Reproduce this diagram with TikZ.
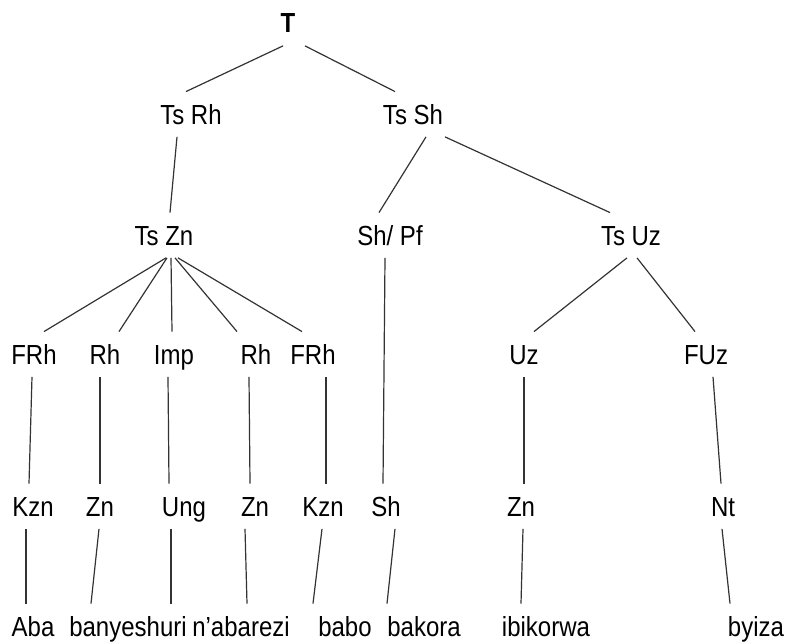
\documentclass[tikz,border=0pt]{standalone}
\usepackage{fontspec}
\setmainfont{Liberation Sans}
\usepackage{tikz}

\begin{document}
\begin{tikzpicture}[x=1pt, y=-1pt,
	lbl/.style={anchor=base, font=\fontsize{24}{28}\selectfont, yscale=1.15,
		text height=22pt, text depth=5pt, inner xsep=3pt, inner ysep=6pt},
	edge/.style={line width=1.2pt, black!80}]
	\useasboundingbox (0,0) rectangle (789,642);
	% top levels
	\node[lbl] (t) at (288,33) {\textbf{T}};
	\node[lbl] (tsrh) at (191,124) {Ts Rh};
	\node[lbl] (tssh) at (413,124) {Ts Sh};
	\node[lbl] (tszn) at (164,245) {Ts Zn};
	\node[lbl] (shpf) at (390,245) {Sh/ Pf};
	\node[lbl] (tsuz) at (631,245) {Ts Uz};
	% fourth row
	\node[lbl] (frha) at (34,364) {FRh};
	\node[lbl] (rha) at (105,364) {Rh};
	\node[lbl] (imp) at (174,364) {Imp};
	\node[lbl] (rhb) at (256,364) {Rh};
	\node[lbl] (frhb) at (313,364) {FRh};
	\node[lbl] (uz) at (524,364) {Uz};
	\node[lbl] (fuz) at (706,364) {FUz};
	% fifth row
	\node[lbl] (kzna) at (33,516) {Kzn};
	\node[lbl] (zna) at (100,516) {Zn};
	\node[lbl] (ung) at (184,516) {Ung};
	\node[lbl] (znb) at (255,516) {Zn};
	\node[lbl] (kznb) at (323,516) {Kzn};
	\node[lbl] (sh) at (386,516) {Sh};
	\node[lbl] (znc) at (521,516) {Zn};
	\node[lbl] (nt) at (723,516) {Nt};
	% words
	\node[lbl] (aba) at (33,636) {Aba};
	\node[lbl] (banyeshuri) at (128,636) {banyeshuri};
	\node[lbl] (nabarezi) at (241,636) {n'abarezi};
	\node[lbl] (babo) at (345,636) {babo};
	\node[lbl] (bakora) at (424,636) {bakora};
	\node[lbl] (ibikorwa) at (546,636) {ibikorwa};
	\node[lbl] (byiza) at (756,636) {byiza};
	% branches
	\foreach \a/\da/\b/\db in {t/-5/tsrh/-5, t/17/tssh/-18, tsrh/-14/tszn/6,
		tssh/13/shpf/-11, tssh/32/tsuz/-21,
		tszn/2/frha/10, tszn/3/rha/14, tszn/7/imp/-2, tszn/11/rhb/-19, tszn/14/frhb/-11,
		shpf/-5/sh/-3, tsuz/-4/uz/10, tsuz/6/fuz/-11,
		frha/-2/kzna/-4, rha/-5/zna/0, imp/-6/ung/-15, rhb/-7/znb/-5, frhb/13/kznb/3,
		uz/0/znc/3, fuz/7/nt/-2,
		kzna/-7/aba/-7, zna/-1/banyeshuri/-37, ung/-13/nabarezi/-70, znb/-10/nabarezi/6,
		kznb/-1/babo/-32, sh/9/bakora/-37, znc/2/ibikorwa/-25, nt/-1/byiza/-26}
		\draw[edge] ([xshift=\da pt]\a.south) -- ([xshift=\db pt]\b.north);
\end{tikzpicture}
\end{document}
